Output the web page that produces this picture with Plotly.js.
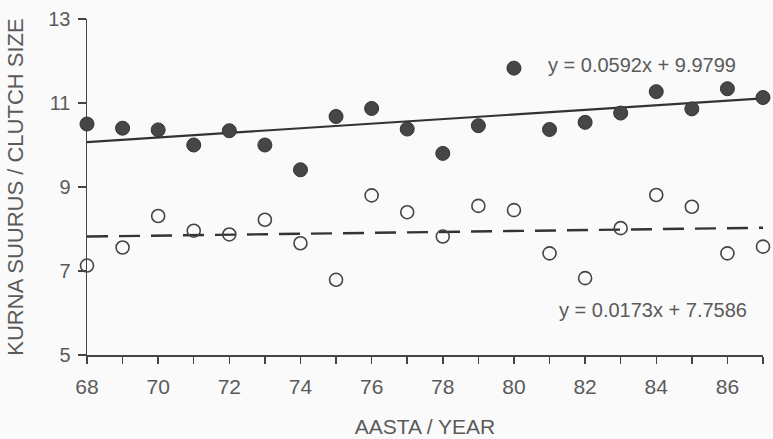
<!DOCTYPE html>
<html>
<head>
<meta charset="utf-8">
<script src="https://cdn.plot.ly/plotly-3.0.1.min.js"></script>
<style>
html,body{margin:0;padding:0;background:#fafafa;}
#chart{width:773px;height:439px;}
</style>
</head>
<body>
<div id="chart"></div>
<script>
// Data
var years = [68,69,70,71,72,73,74,75,76,77,78,79,80,81,82,83,84,85,86,87];
var filledValues = [10.50,10.40,10.36,10.00,10.34,10.00,9.41,10.68,10.87,10.38,9.80,10.46,11.83,10.37,10.54,10.76,11.27,10.86,11.34,11.13];
var openValues = [7.13,7.56,8.31,7.96,7.87,8.22,7.66,6.79,8.80,8.40,7.82,8.55,8.45,7.42,6.83,8.02,8.81,8.53,7.42,7.58];
// Trend lines as drawn in the reference (values at first and last year)
var trendYears = [68, 87];
var filledTrend = [10.07, 11.11];
var openTrend = [7.82, 8.03];
var equationLabels = ['y = 0.0592x + 9.9799', 'y = 0.0173x + 7.7586'];
var tickYears = years;
var tickText = years.map(function(y){ return (y % 2 === 0) ? String(y) : ''; });

var font = '"Liberation Sans", Arial, Helvetica, sans-serif';
var textColor = '#5a5a5a';

var traces = [
  {x: trendYears, y: filledTrend, mode: 'lines', line: {color: '#333', width: 2.2}, hoverinfo: 'skip', cliponaxis: false},
  {x: trendYears, y: openTrend, mode: 'lines', line: {color: '#333', width: 2.4, dash: '21px,11px'}, hoverinfo: 'skip', cliponaxis: false},
  {x: years, y: filledValues, mode: 'markers', cliponaxis: false,
   marker: {symbol: 'circle', size: 14, color: '#464646', line: {color: '#333', width: 1}}},
  {x: years, y: openValues, mode: 'markers', cliponaxis: false,
   marker: {symbol: 'circle-open', size: 13, color: '#444', line: {color: '#444', width: 1.6}}}
];

var layout = {
  width: 773, height: 439,
  paper_bgcolor: '#fafafa', plot_bgcolor: '#fafafa',
  margin: {l: 87, r: 10, t: 19, b: 84},
  showlegend: false,
  font: {family: font, color: textColor},
  xaxis: {
    range: [68, 87], tickmode: 'array', tickvals: tickYears, ticktext: tickText,
    showgrid: false, zeroline: false, showline: true, linecolor: '#444', linewidth: 1.5,
    ticks: 'outside', ticklen: 7, tickwidth: 1.5, tickcolor: '#444', ticklabelstandoff: 5,
    tickfont: {size: 21, color: textColor, family: font},
    title: {text: 'AASTA / YEAR', font: {size: 21, color: textColor, family: font}, standoff: 22}
  },
  yaxis: {
    range: [5, 13], tickmode: 'array', tickvals: [5,7,9,11,13],
    showgrid: false, zeroline: false, showline: true, linecolor: '#444', linewidth: 1.5,
    ticks: 'outside', ticklen: 8, tickwidth: 1.5, tickcolor: '#444', ticklabelstandoff: 3,
    tickfont: {size: 20, color: textColor, family: font},
    title: {text: 'KURNA SUURUS / CLUTCH SIZE', font: {size: 22, color: textColor, family: font}, standoff: 18}
  },
  annotations: [
    {x: 80.9, y: 11.91, xref: 'x', yref: 'y', text: equationLabels[0], showarrow: false, xanchor: 'left', yanchor: 'middle',
     font: {size: 20, color: textColor, family: font}},
    {x: 81.2, y: 6.07, xref: 'x', yref: 'y', text: equationLabels[1], showarrow: false, xanchor: 'left', yanchor: 'middle',
     font: {size: 20, color: textColor, family: font}}
  ]
};

Plotly.newPlot('chart', traces, layout, {displayModeBar: false, staticPlot: true});
</script>
</body>
</html>
